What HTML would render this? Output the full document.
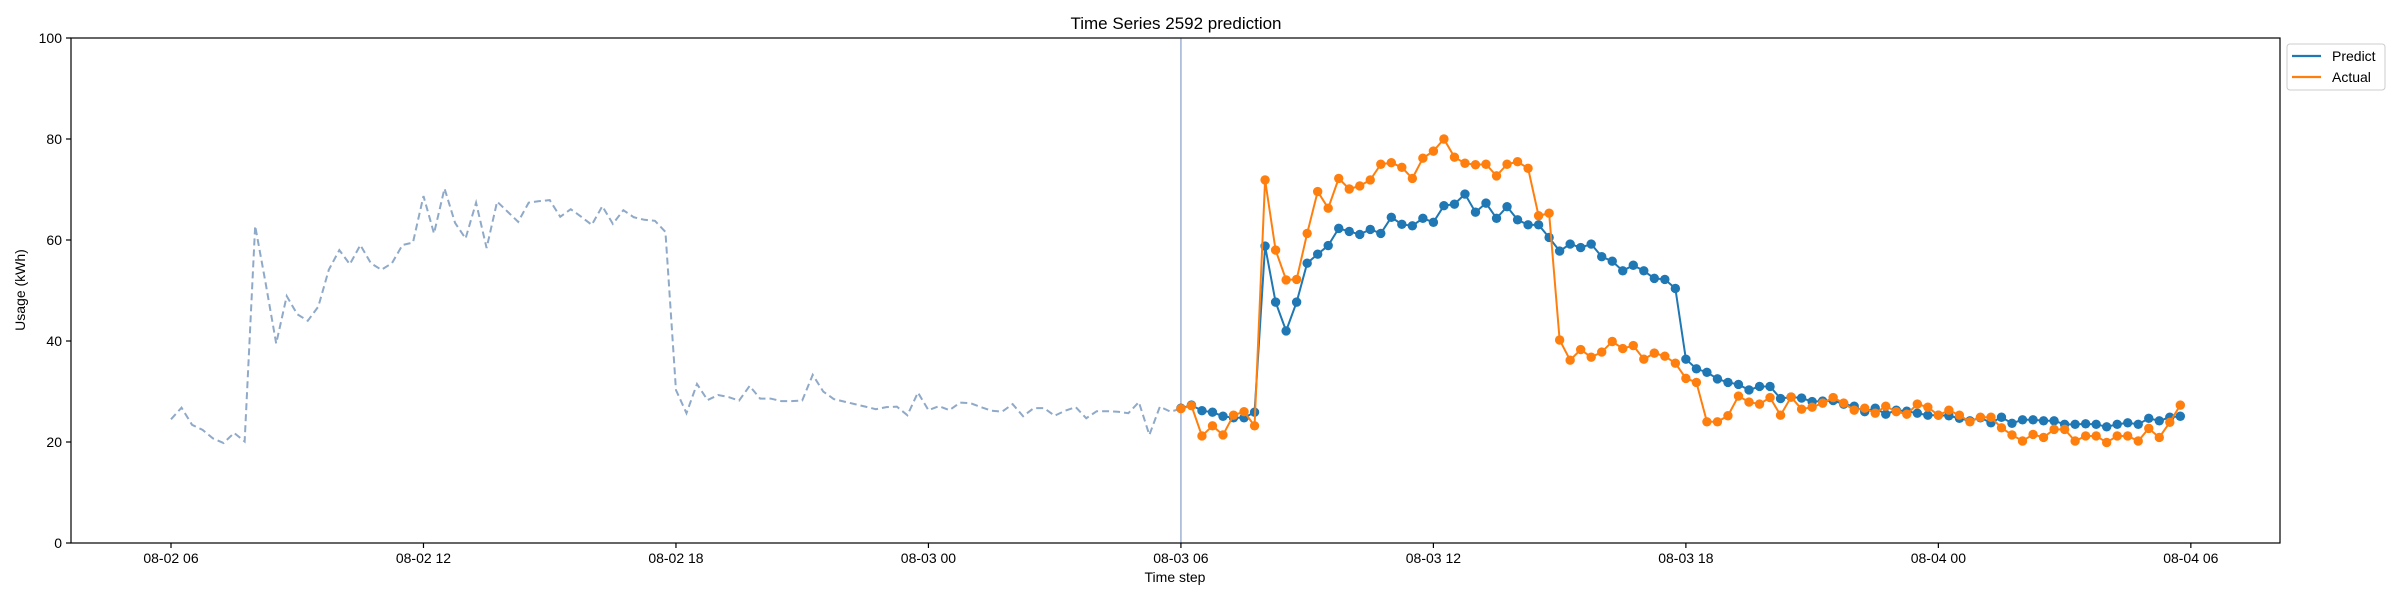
<!DOCTYPE html>
<html><head><meta charset="utf-8"><style>
html,body{margin:0;padding:0;background:#fff;}
svg{display:block;font-family:"Liberation Sans","DejaVu Sans",sans-serif;}
</style></head><body>
<svg id="chart" width="2400" height="600" viewBox="0 0 2400 600" xmlns="http://www.w3.org/2000/svg">
<rect x="0" y="0" width="2400" height="600" fill="#fff"/>
<text x="1176" y="29" text-anchor="middle" font-size="17" fill="#000">Time Series 2592 prediction</text>
<g id="grid"></g>
<g id="marks"></g>
<rect x="71" y="38" width="2209" height="505" fill="none" stroke="#000" stroke-width="1.2"/>
<g id="axes"></g>
<text x="1175" y="582" text-anchor="middle" font-size="14" fill="#000">Time step</text>
<text x="0" y="0" transform="translate(25,290) rotate(-90)" text-anchor="middle" font-size="14" fill="#000">Usage (kWh)</text>
<g>
<rect x="2287" y="44" width="98" height="46" rx="3" fill="#fff" stroke="#ccc" stroke-width="1"/>
<g>
<line x1="2292" y1="56" x2="2321" y2="56" stroke="#1f77b4" stroke-width="2.2"/>
<text x="2332" y="61" font-size="14" fill="#000">Predict</text></g>
<g>
<line x1="2292" y1="77" x2="2321" y2="77" stroke="#ff7f0e" stroke-width="2.2"/>
<text x="2332" y="82" font-size="14" fill="#000">Actual</text></g>
</g>
</svg>
<script>
const history = [24.5,26.8,23.4,22.4,20.7,19.8,21.8,20.1,62.8,51.4,39.5,48.9,45.3,44.0,46.8,54.1,58.0,55.2,59.0,55.4,54.1,55.4,59.0,59.5,68.7,61.3,70.2,63.4,60.3,67.4,58.4,67.6,65.6,63.6,67.4,67.7,67.9,64.6,66.1,64.6,63.0,66.7,63.2,65.9,64.5,64.0,63.8,61.6,30.3,25.7,31.5,28.3,29.3,28.9,28.2,31.1,28.6,28.6,28.1,28.1,28.2,33.3,30.0,28.5,28.0,27.5,27.0,26.5,26.9,27.0,25.3,29.8,26.3,27.1,26.3,27.8,27.7,26.9,26.2,26.0,27.5,25.1,26.7,26.7,25.2,26.2,26.9,24.7,26.1,26.1,26.0,25.7,27.9,21.4,27.0,26.0,26.6];
const predict = [26.7,27.3,26.2,25.9,25.1,24.8,24.8,25.9,58.8,47.7,42.0,47.7,55.4,57.2,58.9,62.3,61.7,61.1,62.1,61.3,64.5,63.1,62.8,64.3,63.5,66.8,67.1,69.1,65.5,67.3,64.3,66.6,64.0,63.0,63.0,60.5,57.8,59.2,58.5,59.2,56.7,55.8,53.9,55.0,53.9,52.4,52.2,50.4,36.4,34.5,33.8,32.5,31.8,31.4,30.3,31.0,31.0,28.6,28.9,28.7,28.0,28.1,28.2,27.5,27.1,26.0,26.7,25.5,26.3,26.1,25.7,25.3,25.3,25.2,24.7,24.2,24.8,23.8,24.9,23.7,24.4,24.4,24.2,24.2,23.5,23.5,23.6,23.5,23.0,23.5,23.8,23.5,24.7,24.2,24.9,25.1];
const actual = [26.6,27.2,21.2,23.2,21.4,25.3,26.0,23.2,71.9,58.0,52.1,52.2,61.3,69.6,66.3,72.2,70.1,70.7,71.9,75.0,75.3,74.4,72.2,76.2,77.6,80.0,76.4,75.2,74.9,75.0,72.7,75.0,75.5,74.2,64.8,65.3,40.2,36.2,38.3,36.8,37.8,39.9,38.5,39.1,36.4,37.6,37.0,35.6,32.6,31.8,24.0,24.0,25.2,29.1,27.9,27.5,28.8,25.3,28.9,26.5,26.9,27.7,28.8,27.7,26.3,26.7,25.7,27.1,26.0,25.5,27.5,26.9,25.3,26.3,25.3,24.0,24.9,24.9,22.8,21.4,20.2,21.5,20.9,22.5,22.5,20.2,21.2,21.2,19.9,21.2,21.2,20.2,22.7,20.9,23.9,27.3];
const xTickLabels = ["08-02 06","08-02 12","08-02 18","08-03 00","08-03 06","08-03 12","08-03 18","08-04 00","08-04 06"];
const yTickValues = [0,20,40,60,80,100];
const forecastStartStep = 96;

const NS = "http://www.w3.org/2000/svg";
const X0 = 171, STEP = 10.52;          // 15-minute step
const xOf = i => X0 + STEP * i;
const Y0 = 543, YPX = 5.05;
const yOf = v => Y0 - v * YPX;
function mk(tag, attrs, parent){ const e=document.createElementNS(NS,tag); for(const k in attrs) e.setAttribute(k,attrs[k]); parent.appendChild(e); return e; }
const axes = document.getElementById('axes');
const marks = document.getElementById('marks');

xTickLabels.forEach((lab, k) => {
  const x = xOf(k * 24);
  const t = mk('line',{x1:x,y1:543,x2:x,y2:548,stroke:'#000','stroke-width':1.2},axes);
  
  
  const tx = mk('text',{x:x,y:563,'text-anchor':'middle','font-size':14,fill:'#000'},axes);
  tx.textContent = lab;
  
  
});
yTickValues.forEach(v => {
  const y = yOf(v);
  const t = mk('line',{x1:66,y1:y,x2:71,y2:y,stroke:'#000','stroke-width':1.2},axes);
  
  
  const tx = mk('text',{x:62,y:y+5,'text-anchor':'end','font-size':14,fill:'#000'},axes);
  tx.textContent = v;
  
  
});

const vx = xOf(forecastStartStep);
const vl = mk('line',{x1:vx,y1:38,x2:vx,y2:543,stroke:'#9fb0d4','stroke-width':1.5},marks);



const hp = mk('polyline',{points:history.map((v,i)=>xOf(i)+','+yOf(v)).join(' '),fill:'none',stroke:'#8fa9c9','stroke-width':2,'stroke-dasharray':'7,4'},marks);



function series(data, color, name){
  const g = mk('g',{},marks);
  
  
  const pl = mk('polyline',{points:data.map((v,j)=>xOf(forecastStartStep+j)+','+yOf(v)).join(' '),fill:'none',stroke:color,'stroke-width':2},g);
  
  
  data.forEach((v,j) => {
    const c = mk('circle',{cx:xOf(forecastStartStep+j),cy:yOf(v),r:4.7,fill:color},g);
    
    
  });
}
series(predict,'#1f77b4','predict');
series(actual,'#ff7f0e','actual');
</script>
</body></html>
